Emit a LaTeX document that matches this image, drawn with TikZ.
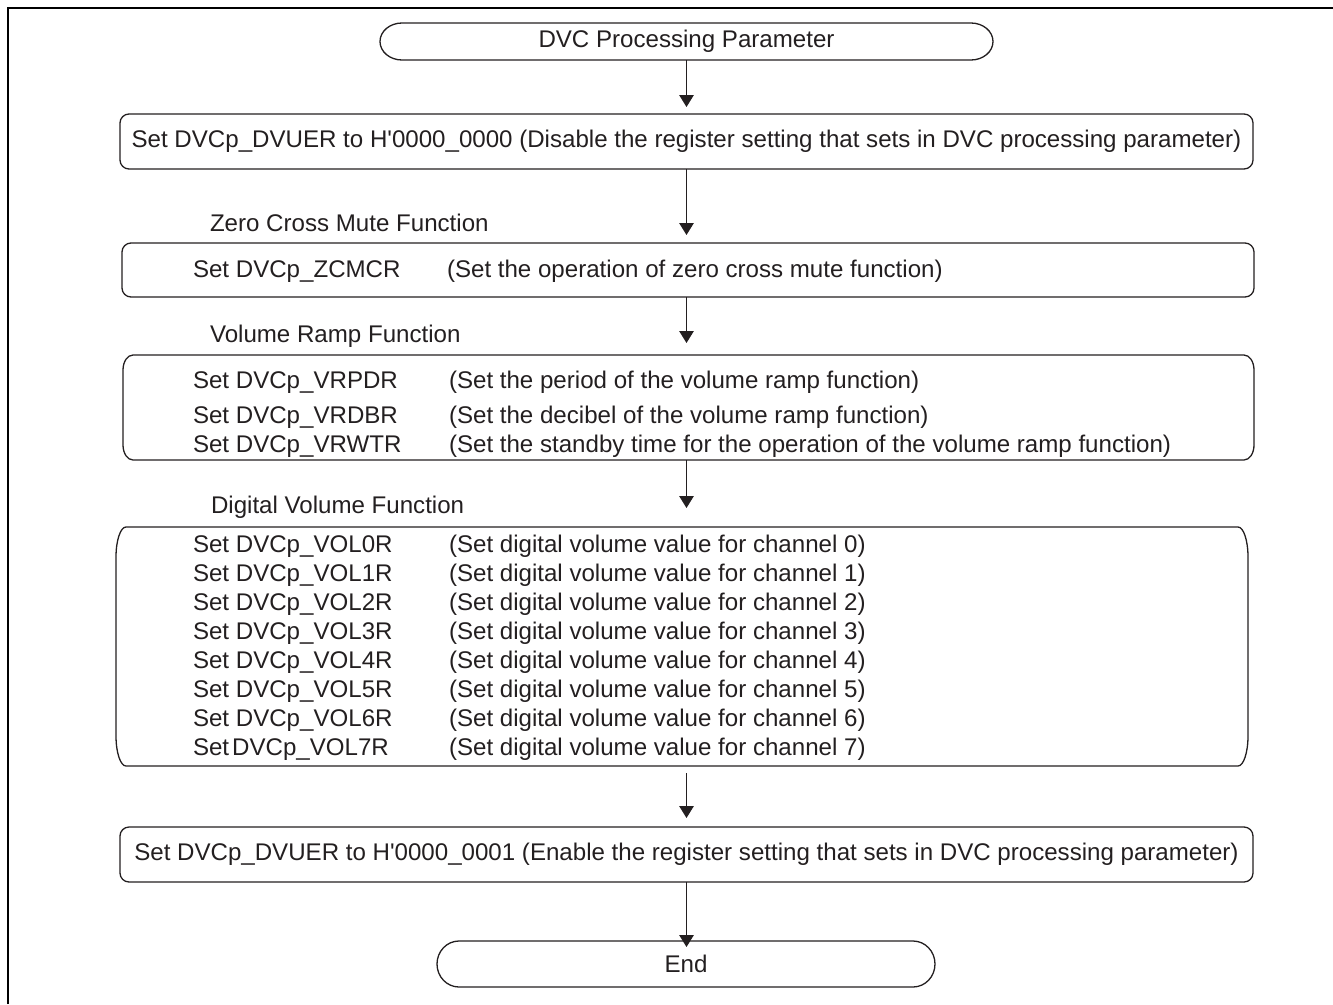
\documentclass[tikz,border=0pt]{standalone}
\usepackage{fontspec}
\setmainfont{Liberation Sans}
\usetikzlibrary{arrows.meta}
\definecolor{ink}{HTML}{231F20}
\newcommand\ellipsebox[3]{%
  \draw[boxline] ([xshift=#2]#1.north west) -- ([xshift=-#2]#1.north east)
    arc[start angle=90,end angle=0,x radius=#2,y radius=#3]
    -- ([yshift=#3]#1.south east)
    arc[start angle=0,end angle=-90,x radius=#2,y radius=#3]
    -- ([xshift=#2]#1.south west)
    arc[start angle=270,end angle=180,x radius=#2,y radius=#3]
    -- ([yshift=-#3]#1.north west)
    arc[start angle=180,end angle=90,x radius=#2,y radius=#3] -- cycle;}
\tikzset{
  txt/.style={font=\fontsize{24.1pt}{29pt}\selectfont, text=ink, inner sep=0pt, outer sep=0pt},
  boxline/.style={draw=ink, line width=1.3pt},
  rbox/.style={boxline, rounded corners=9pt},
  row/.style={txt, anchor=base west},
  arr/.style={draw=ink, line width=1.3pt, -{Triangle[length=12pt,width=14.5pt]}},
}
\begin{document}
\begin{tikzpicture}[x=1pt,y=-1pt]
\useasboundingbox (0,0) rectangle (1333,1004);
\draw[black, line width=2.3pt] (7.8,1004) -- (7.8,7.8) -- (1333,7.8);

% start
\node[txt, minimum width=613pt, minimum height=37pt] (start) at (686.5,41.5) {DVC Processing Parameter};
\ellipsebox{start}{22pt}{18.5pt}

% DVUER disable
\node[txt, rbox, minimum width=1133pt, minimum height=55pt] (dvuer1) at (686.5,141.5)
  {Set DVCp\_DVUER to H\textquotesingle 0000\_0000 (Disable the register setting that sets in DVC processing parameter)};

% zero cross
\node[row] (zclbl) at (210,231) {Zero Cross Mute Function};
\node[txt, rbox, minimum width=1132pt, minimum height=54pt] (zc) at (688,270) {};
\node[row] (zca) at (193,277) {Set DVCp\_ZCMCR};
\node[row] (zcb) at (447,277) {(Set the operation of zero cross mute function)};

% volume ramp
\node[row] (vrlbl) at (210,342) {Volume Ramp Function};
\node[txt, minimum width=1131pt, minimum height=105pt] (vr) at (688.5,407.5) {};
\ellipsebox{vr}{10pt}{15pt}
\node[row] (vra1) at (193,388) {Set DVCp\_VRPDR};
\node[row] (vrb1) at (449,388) {(Set the period of the volume ramp function)};
\node[row] (vra2) at (193,423) {Set DVCp\_VRDBR};
\node[row] (vrb2) at (449,423) {(Set the decibel of the volume ramp function)};
\node[row] (vra3) at (193,452) {Set DVCp\_VRWTR};
\node[row] (vrb3) at (449,452) {(Set the standby time for the operation of the volume ramp function)};

% digital volume
\node[row] (dvlbl) at (211,513) {Digital Volume Function};
\node[txt, minimum width=1132pt, minimum height=239pt] (dv) at (682,646.5) {};
\ellipsebox{dv}{10pt}{30pt}
\foreach \k in {0,...,6}{
  \node[row] (dva\k) at (193,552+29*\k) {Set DVCp\_VOL\k R};
  \node[row] (dvb\k) at (449,552+29*\k) {(Set digital volume value for channel \k)};
}
\node[row] (dva7) at (193,755) {Set\hspace{3pt}DVCp\_VOL7R};
\node[row] (dvb7) at (449,755) {(Set digital volume value for channel 7)};

% DVUER enable
\node[txt, rbox, minimum width=1133pt, minimum height=55pt] (dvuer2) at (686.5,854.5)
  {Set DVCp\_DVUER to H\textquotesingle 0000\_0001 (Enable the register setting that sets in DVC processing parameter)};

% end
\node[txt, minimum width=498pt, minimum height=46pt] (end) at (686,964) {End};
\ellipsebox{end}{22pt}{23pt}

% arrows
\draw[arr, shorten >=7pt] (start.south) -- (start.south |- dvuer1.north);
\draw[arr, shorten >=8pt] (dvuer1.south) -- (dvuer1.south |- zc.north);
\draw[arr, shorten >=12pt] (start.south |- zc.south) -- (start.south |- vr.north);
\draw[arr, shorten >=19pt] (start.south |- vr.south) -- (start.south |- dv.north);
\draw[arr, shorten <=7pt, shorten >=9pt] (start.south |- dv.south) -- (start.south |- dvuer2.north);
\draw[arr, shorten >=-6pt] (dvuer2.south) -- (dvuer2.south |- end.north);
\end{tikzpicture}
\end{document}
